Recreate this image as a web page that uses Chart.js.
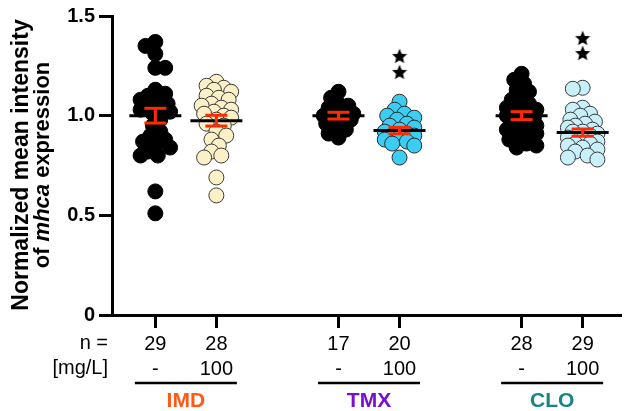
<!DOCTYPE html>
<html>
<head>
<meta charset="utf-8">
<script src="https://cdn.jsdelivr.net/npm/chart.js@4.4.1/dist/chart.umd.min.js"></script>
<style>
  html, body { margin: 0; padding: 0; background: #fff; }
  canvas { display: block; }
</style>
</head>
<body>
<canvas id="myChart" width="629" height="411"></canvas>
<script>
'use strict';

// Values

var groupNames = ['IMD', 'TMX', 'CLO'];
var groupColors = ['#ff5a14', '#7a0fcc', '#178585'];
var groupX = [1, 2, 4, 5, 7, 8];
var nLabels = ['29', '28', '17', '20', '28', '29'];
var doseLabels = ['-', '100', '-', '100', '-', '100'];
var yTicks = [0, 0.5, 1.0, 1.5];

var imdCtrl = [1.37, 1.35, 1.31, 1.24, 1.24, 1.13, 1.11, 1.10, 1.08, 1.08, 1.06, 1.05, 1.04, 1.03, 1.02,
  1.01, 0.98, 0.95, 0.92, 0.90, 0.88, 0.87, 0.85, 0.84, 0.82, 0.80, 0.80, 0.62, 0.51];
var imd100 = [1.17, 1.15, 1.14, 1.13, 1.12, 1.10, 1.09, 1.08, 1.06, 1.05, 1.04, 1.03, 1.02, 1.01,
  1.00, 0.99, 0.98, 0.96, 0.95, 0.92, 0.90, 0.88, 0.85, 0.82, 0.80, 0.79, 0.69, 0.60];
var tmxCtrl = [1.12, 1.09, 1.06, 1.05, 1.04, 1.03, 1.01, 1.00, 1.00, 0.99, 0.98, 0.97, 0.96, 0.95,
  0.93, 0.91, 0.89];
var tmx100 = [1.07, 1.03, 1.01, 1.00, 0.99, 0.98, 0.96, 0.95, 0.94, 0.93, 0.92, 0.91, 0.90, 0.90,
  0.89, 0.88, 0.87, 0.86, 0.85, 0.79];
var cloCtrl = [1.21, 1.18, 1.16, 1.13, 1.12, 1.09, 1.08, 1.06, 1.05, 1.04, 1.03, 1.02, 1.01, 1.00,
  0.99, 0.98, 0.97, 0.96, 0.95, 0.94, 0.93, 0.92, 0.91, 0.89, 0.88, 0.86, 0.85, 0.84];
var clo100 = [1.14, 1.135, 1.04, 1.03, 1.01, 1.00, 0.98, 0.97, 0.96, 0.95, 0.94, 0.93, 0.92, 0.92,
  0.91, 0.90, 0.90, 0.89, 0.88, 0.87, 0.86, 0.86, 0.85, 0.84, 0.83, 0.82, 0.80, 0.79, 0.78];

var means = [1.00, 0.975, 1.00, 0.925, 1.00, 0.915];
var sems = [0.037, 0.027, 0.017, 0.016, 0.02, 0.018];
var starLevels = [[], [], [], [1.30, 1.22], [], [1.39, 1.315]];

var allGroups = [imdCtrl, imd100, tmxCtrl, tmx100, cloCtrl, clo100];
var dotColors = ['#000000', '#fbf0c6', '#000000', '#3ccdf3', '#000000', '#c8f0fa'];
var dotBorders = ['#000000', '#3a3a3a', '#000000', '#2a2a2a', '#000000', '#3a3a3a'];

var FONT = '"Liberation Sans", Arial, Helvetica, sans-serif';

// Simple beeswarm, done in pixel units then turned back into x values

var PX_PER_X = 62.1;
var PX_PER_Y = 200;
var MIN_DIST = 9;

function swarm(values, center) {
  var placed = [];
  var sorted = values.slice().sort(function(a, b) { return b - a; });
  var offsets = [0];
  for (var k = 1; k <= 6; k++) {
    offsets.push(k * 2.5, -k * 2.5);
  }
  return sorted.map(function(v, idx) {
    var py = v * PX_PER_Y;
    var best = 0, bestDist = -1;
    for (var j = 0; j < offsets.length; j++) {
      var off = (idx % 2) ? -offsets[j] : offsets[j];
      var d = Infinity;
      placed.forEach(function(p) {
        var dd = Math.hypot(p[0] - off, p[1] - py);
        if (dd < d) d = dd;
      });
      if (d >= MIN_DIST) { best = off; bestDist = d; break; }
      if (d > bestDist) { bestDist = d; best = off; }
    }
    placed.push([best, py]);
    return { x: center + best / PX_PER_X, y: v };
  });
}

function makeStar(size) {
  var c = document.createElement('canvas');
  c.width = c.height = size;
  var g = c.getContext('2d');
  var r = size / 2, ri = r * 0.45;
  g.beginPath();
  for (var k = 0; k < 10; k++) {
    var a = -Math.PI / 2 + k * Math.PI / 5;
    var rr = (k % 2) ? ri : r;
    g.lineTo(r + rr * Math.cos(a), r + 0.8 + rr * Math.sin(a));
  }
  g.closePath();
  g.fillStyle = '#000';
  g.fill();
  return c;
}

var datasets = allGroups.map(function(vals, i) {
  return {
    data: swarm(vals, groupX[i]),
    backgroundColor: dotColors[i],
    borderColor: dotBorders[i],
    borderWidth: 1,
    pointRadius: 7.5,
    pointHoverRadius: 7.5
  };
});

var starData = [];
starLevels.forEach(function(levels, i) {
  levels.forEach(function(lv) { starData.push({ x: groupX[i], y: lv }); });
});
datasets.push({
  data: starData,
  pointStyle: makeStar(16),
  backgroundColor: '#000',
  borderColor: '#000'
});

// Mean line + red SEM bars on top of the dots

var meanSemPlugin = {
  id: 'meanSem',
  afterDatasetsDraw: function(chart) {
    var xs = chart.scales.x, ys = chart.scales.y, ctx = chart.ctx;
    function seg(x1, y1, x2, y2) {
      ctx.beginPath(); ctx.moveTo(x1, y1); ctx.lineTo(x2, y2); ctx.stroke();
    }
    ctx.save();
    ctx.lineWidth = 3;
    for (var i = 0; i < groupX.length; i++) {
      var cx = xs.getPixelForValue(groupX[i]);
      var my = ys.getPixelForValue(means[i]);
      var top = ys.getPixelForValue(means[i] + sems[i]);
      var bot = ys.getPixelForValue(means[i] - sems[i]);
      ctx.strokeStyle = '#000';
      seg(cx - 26, my, cx + 26, my);
      ctx.strokeStyle = '#ff2a00';
      seg(cx, top, cx, bot);
      seg(cx - 11, top, cx + 11, top);
      seg(cx - 11, bot, cx + 11, bot);
    }
    ctx.restore();
  }
};

// Axis title with italic gene name, row labels and drug names

var textPlugin = {
  id: 'extraText',
  afterDraw: function(chart) {
    var ctx = chart.ctx, xs = chart.scales.x;
    ctx.save();
    ctx.fillStyle = '#000';

    // y title, rotated
    ctx.save();
    ctx.translate(22, 165);
    ctx.rotate(-Math.PI / 2);
    ctx.textBaseline = 'middle';
    ctx.textAlign = 'center';
    ctx.font = 'bold 23px ' + FONT;
    ctx.fillText('Normalized mean intensity', 0, 0);
    var parts = [['of ', 'bold 22px '], ['mhca', 'italic bold 22px '], [' expression', 'bold 22px ']];
    var total = 0;
    parts.forEach(function(p) { ctx.font = p[1] + FONT; total += ctx.measureText(p[0]).width; });
    var px = -total / 2;
    ctx.textAlign = 'left';
    parts.forEach(function(p) {
      ctx.font = p[1] + FONT;
      ctx.fillText(p[0], px, 21);
      px += ctx.measureText(p[0]).width;
    });
    ctx.restore();

    // row labels
    ctx.font = '20px ' + FONT;
    ctx.textAlign = 'right';
    ctx.textBaseline = 'middle';
    ctx.fillText('n =', 108, 343);
    ctx.fillText('[mg/L]', 108, 368);

    // drug underline and name
    ctx.textAlign = 'center';
    ctx.font = 'bold 21px ' + FONT;
    for (var g = 0; g < groupNames.length; g++) {
      var mid = (xs.getPixelForValue(groupX[2 * g]) + xs.getPixelForValue(groupX[2 * g + 1])) / 2;
      ctx.strokeStyle = '#000';
      ctx.lineWidth = 2.5;
      ctx.beginPath();
      ctx.moveTo(mid - 51, 383);
      ctx.lineTo(mid + 51, 383);
      ctx.stroke();
      ctx.fillStyle = groupColors[g];
      ctx.fillText(groupNames[g], mid, 401);
    }
    ctx.restore();
  }
};

var ctx = document.getElementById('myChart').getContext('2d');

var chart = new Chart(ctx, {
  type: 'scatter',
  data: { datasets: datasets },
  options: {
    responsive: false,
    animation: false,
    devicePixelRatio: 1,
    layout: { padding: { top: 15, right: 0, left: 0, bottom: 0 } },
    plugins: { legend: { display: false }, tooltip: { enabled: false } },
    scales: {
      x: {
        type: 'linear',
        min: 0.29,
        max: 8.62,
        border: { color: '#000', width: 3 },
        grid: { drawOnChartArea: false, tickLength: 13, color: '#000', lineWidth: 3 },
        ticks: {
          autoSkip: false,
          maxRotation: 0,
          padding: 4,
          color: '#000',
          font: { family: FONT, size: 20, lineHeight: 1.25 },
          callback: function(value) {
            var i = groupX.indexOf(value);
            return i < 0 ? '' : [nLabels[i], doseLabels[i]];
          }
        },
        afterBuildTicks: function(scale) {
          scale.ticks = groupX.map(function(v) { return { value: v }; });
        },
        afterFit: function(scale) { scale.height = 96; }
      },
      y: {
        min: 0,
        max: 1.5,
        border: { color: '#000', width: 3 },
        grid: { drawOnChartArea: false, tickLength: 13, color: '#000', lineWidth: 3 },
        ticks: {
          padding: 4,
          color: '#000',
          font: { family: FONT, size: 20, weight: 'bold' },
          callback: function(v) { return v === 0 ? '0' : v.toFixed(1); }
        },
        afterBuildTicks: function(scale) {
          scale.ticks = yTicks.map(function(v) { return { value: v }; });
        },
        afterFit: function(scale) { scale.width = 112; }
      }
    }
  },
  plugins: [meanSemPlugin, textPlugin]
});
</script>
</body>
</html>
